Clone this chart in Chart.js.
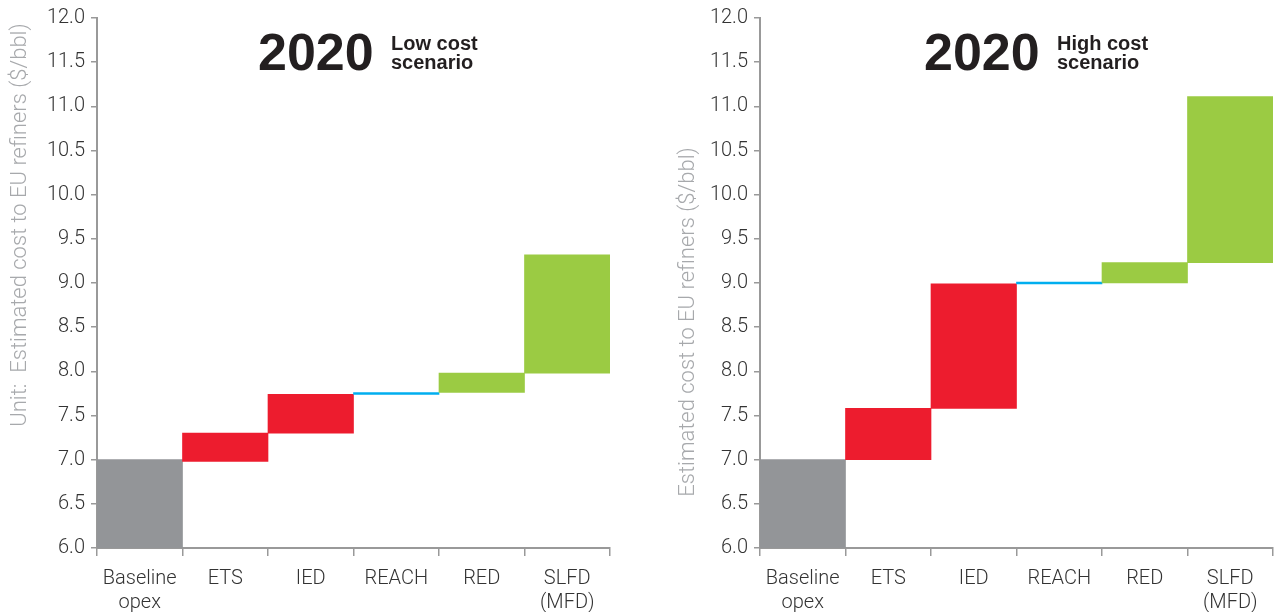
<!DOCTYPE html>
<html>
<head>
<meta charset="utf-8">
<script src="https://cdn.jsdelivr.net/npm/chart.js@4/dist/chart.umd.min.js"></script>
<style>
  body { margin: 0; background: #fff; }
  .panel { position: absolute; top: 0; }
  canvas { display: block; }
</style>
</head>
<body>
<div class="panel" style="left:0"><canvas id="lowChart" width="640" height="612"></canvas></div>
<div class="panel" style="left:640px"><canvas id="highChart" width="639" height="612"></canvas></div>
<script>
// cost steps, $/bbl
const categories = [['Baseline', 'opex'], 'ETS', 'IED', 'REACH', 'RED', ['SLFD', '(MFD)']];
const lowFrom  = [6.00, 6.98, 7.30, 7.74, 7.76, 7.98];
const lowTo    = [7.00, 7.30, 7.74, 7.76, 7.98, 9.32];
const highFrom = [6.00, 7.00, 7.58, 8.99, 9.00, 9.23];
const highTo   = [7.00, 7.58, 8.99, 9.01, 9.23, 11.11];
const yMin = 6, yMax = 12, yStep = 0.5;

const barColors = ['#939598', '#ed1c2e', '#ed1c2e', '#00aeef', '#9bcb43', '#9bcb43'];
const TICK_FONT = { family: 'Roboto', size: 20, weight: 300, lineHeight: 1.2 };

// big year + two-line scenario caption, and the rotated y title
const headings = {
  id: 'headings',
  afterDraw(chart, args, o) {
    const ctx = chart.ctx;
    ctx.save();
    ctx.fillStyle = '#231f20';
    ctx.textBaseline = 'alphabetic';
    ctx.textAlign = 'left';
    ctx.font = 'bold 52px "Liberation Sans"';
    ctx.fillText(o.year, o.x, 70);
    ctx.font = 'bold 20px "Liberation Sans"';
    ctx.fillText(o.caption[0], o.x + 133, 50);
    ctx.fillText(o.caption[1], o.x + 133, 69);

    ctx.translate(o.axisX, o.axisY);
    ctx.rotate(-Math.PI / 2);
    ctx.textAlign = 'center';
    ctx.textBaseline = 'middle';
    ctx.fillStyle = '#a7a9ac';
    ctx.font = '300 22px Roboto';
    ctx.fillText(o.axisTitle, 0, 0);
    ctx.restore();
  }
};

function makeChart(id, from, to, opts) {
  return new Chart(document.getElementById(id), {
    type: 'bar',
    data: {
      labels: categories,
      datasets: [{
        data: from.map((v, i) => [v, to[i]]),
        backgroundColor: barColors,
        borderWidth: 0,
        barPercentage: 1,
        categoryPercentage: 1
      }]
    },
    options: {
      responsive: false,
      animation: false,
      layout: { padding: { top: 18, right: opts.padRight, left: 0, bottom: 0 } },
      plugins: {
        legend: { display: false },
        tooltip: { enabled: false },
        headings: opts.headings
      },
      scales: {
        x: {
          grid: { offset: true, drawOnChartArea: false, color: '#999', tickLength: 8, lineWidth: 1.5 },
          border: { color: '#999', width: 2 },
          ticks: { color: '#333', font: TICK_FONT, padding: 11, maxRotation: 0, autoSkip: false },
          afterFit(scale) { scale.height = 64; }
        },
        y: {
          min: yMin,
          max: yMax,
          grid: { drawOnChartArea: false, color: '#999', tickLength: 6, lineWidth: 1.5 },
          border: { color: '#999', width: 2 },
          ticks: {
            stepSize: yStep,
            color: '#333',
            font: TICK_FONT,
            padding: 6,
            callback: v => v.toFixed(1)
          },
          afterFit(scale) { scale.width = opts.axisWidth; }
        }
      }
    },
    plugins: [headings]
  });
}

makeChart('lowChart', lowFrom, lowTo, {
  padRight: 30,
  axisWidth: 97,
  headings: {
    year: '2020', caption: ['Low cost', 'scenario'], x: 258,
    axisTitle: 'Unit:  Estimated cost to EU refiners ($/bbl)', axisX: 20, axisY: 225
  }
});

makeChart('highChart', highFrom, highTo, {
  padRight: 6,
  axisWidth: 120,
  headings: {
    year: '2020', caption: ['High cost', 'scenario'], x: 284,
    axisTitle: 'Estimated cost to EU refiners ($/bbl)', axisX: 48, axisY: 322
  }
});
</script>
</body>
</html>
